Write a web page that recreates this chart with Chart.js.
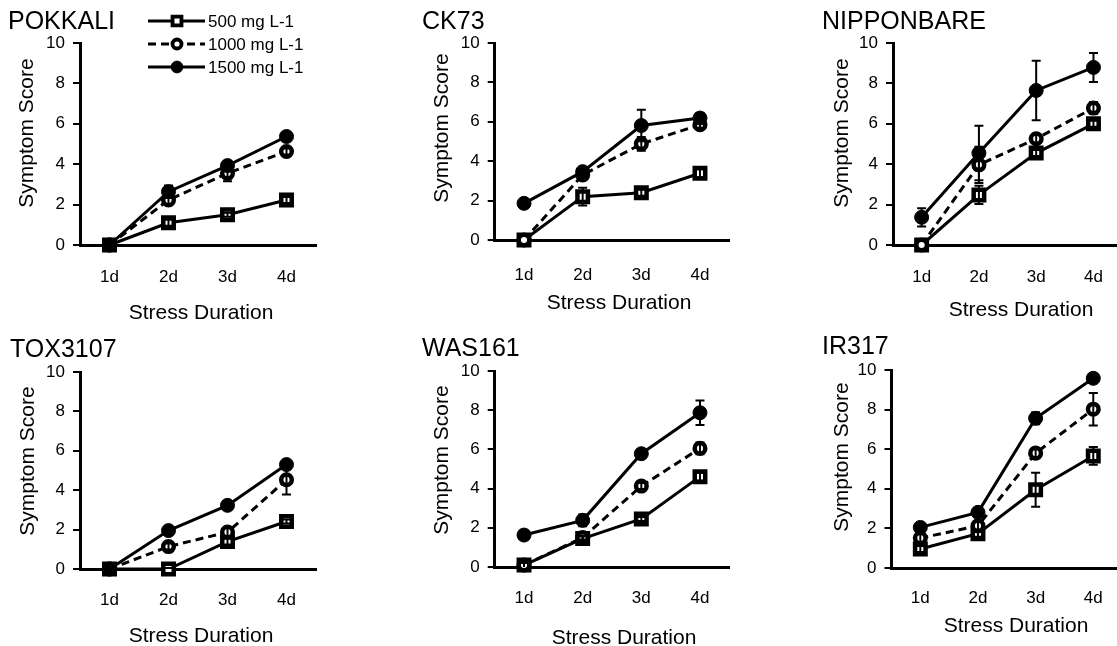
<!DOCTYPE html>
<html>
<head>
<meta charset="utf-8">
<script src="https://cdn.jsdelivr.net/npm/chart.js@4.4.1/dist/chart.umd.min.js"></script>
<style>
  html, body { margin: 0; padding: 0; background: #fff; overflow: hidden; }
  #wrap { position: relative; width: 1117px; height: 646px; overflow: hidden; background: #fff; }
  canvas { position: absolute; }
</style>
</head>
<body>
<div id="wrap"></div>
<script>
// ---------- DATA ----------
const days = ['1d', '2d', '3d', '4d'];
const yTicks = [0, 2, 4, 6, 8, 10];
const seriesNames = ['500 mg L-1', '1000 mg L-1', '1500 mg L-1'];
const panelNames = ['POKKALI', 'CK73', 'NIPPONBARE', 'TOX3107', 'WAS161', 'IR317'];
const xAxisTitle = 'Stress Duration';
const yAxisTitle = 'Symptom Score';

const POKKALI_500  = [0, 1.10, 1.50, 2.23];
const POKKALI_1000 = [0, 2.23, 3.55, 4.63];
const POKKALI_1500 = [0, 2.64, 3.93, 5.37];
const POKKALI_500_ERR  = [0, 0.15, 0.10, 0.15];
const POKKALI_1000_ERR = [0, 0.20, 0.40, 0.15];
const POKKALI_1500_ERR = [0, 0.30, 0.10, 0.10];

const CK73_500  = [0, 2.20, 2.40, 3.39];
const CK73_1000 = [0, 3.30, 4.88, 5.85];
const CK73_1500 = [1.86, 3.47, 5.81, 6.19];
const CK73_500_ERR  = [0, 0.45, 0.15, 0.20];
const CK73_1000_ERR = [0, 0.20, 0.35, 0.15];
const CK73_1500_ERR = [0, 0.10, 0.80, 0.25];

const NIPPONBARE_500  = [0, 2.48, 4.55, 6.00];
const NIPPONBARE_1000 = [0, 3.97, 5.26, 6.78];
const NIPPONBARE_1500 = [1.37, 4.55, 7.65, 8.79];
const NIPPONBARE_500_ERR  = [0, 0.45, 0.15, 0.15];
const NIPPONBARE_1000_ERR = [0, 0.90, 0.20, 0.30];
const NIPPONBARE_1500_ERR = [0.45, 1.35, 1.47, 0.72];

const TOX3107_500  = [0, 0, 1.39, 2.41];
const TOX3107_1000 = [0, 1.14, 1.87, 4.53];
const TOX3107_1500 = [0, 1.95, 3.23, 5.30];
const TOX3107_500_ERR  = [0, 0.05, 0.15, 0.10];
const TOX3107_1000_ERR = [0, 0.15, 0.20, 0.75];
const TOX3107_1500_ERR = [0, 0.10, 0.10, 0.10];

const WAS161_500  = [0.10, 1.45, 2.45, 4.61];
const WAS161_1000 = [0.10, 1.50, 4.13, 6.05];
const WAS161_1500 = [1.63, 2.38, 5.78, 7.87];
const WAS161_500_ERR  = [0.10, 0.10, 0.10, 0.20];
const WAS161_1000_ERR = [0.10, 0.10, 0.15, 0.30];
const WAS161_1500_ERR = [0.10, 0.30, 0.20, 0.63];

const IR317_500  = [0.96, 1.73, 3.95, 5.66];
const IR317_1000 = [1.51, 2.13, 5.80, 8.02];
const IR317_1500 = [2.05, 2.81, 7.56, 9.58];
const IR317_500_ERR  = [0.15, 0.15, 0.86, 0.45];
const IR317_1000_ERR = [0.20, 0.20, 0.20, 0.82];
const IR317_1500_ERR = [0.10, 0.10, 0.30, 0.15];

const panelValues = [
  [POKKALI_500, POKKALI_1000, POKKALI_1500],
  [CK73_500, CK73_1000, CK73_1500],
  [NIPPONBARE_500, NIPPONBARE_1000, NIPPONBARE_1500],
  [TOX3107_500, TOX3107_1000, TOX3107_1500],
  [WAS161_500, WAS161_1000, WAS161_1500],
  [IR317_500, IR317_1000, IR317_1500]
];
const panelErrors = [
  [POKKALI_500_ERR, POKKALI_1000_ERR, POKKALI_1500_ERR],
  [CK73_500_ERR, CK73_1000_ERR, CK73_1500_ERR],
  [NIPPONBARE_500_ERR, NIPPONBARE_1000_ERR, NIPPONBARE_1500_ERR],
  [TOX3107_500_ERR, TOX3107_1000_ERR, TOX3107_1500_ERR],
  [WAS161_500_ERR, WAS161_1000_ERR, WAS161_1500_ERR],
  [IR317_500_ERR, IR317_1000_ERR, IR317_1500_ERR]
];

// ---------- LAYOUT (canvas-local pixels) ----------
const layouts = [
  { cx: 0,   cy: 0,   w: 372, h: 323, L: 80,    R: 316,   T: 43, B: 245, tickPad: 22, title: [8, 22],  xt: [201, 313], yt: [27, 133], legend: true },
  { cx: 372, cy: 0,   w: 372, h: 323, L: 122.7, R: 357.3, T: 43, B: 240, tickPad: 25, title: [50, 22], xt: [247, 303], yt: [70, 128] },
  { cx: 744, cy: 0,   w: 390, h: 323, L: 149,   R: 382,   T: 43, B: 245, tickPad: 22, title: [78, 22], xt: [277, 310], yt: [98, 133] },
  { cx: 0,   cy: 323, w: 372, h: 323, L: 80,    R: 316,   T: 49, B: 246, tickPad: 21, title: [10, 27], xt: [201, 313], yt: [28, 138] },
  { cx: 372, cy: 323, w: 372, h: 323, L: 122.7, R: 357.3, T: 48, B: 244, tickPad: 21, title: [50, 26], xt: [252, 315], yt: [70, 137] },
  { cx: 744, cy: 323, w: 390, h: 323, L: 147.5, R: 382,   T: 47, B: 245, tickPad: 20, title: [78, 24], xt: [272, 303], yt: [98, 134] }
];

const FONT = '"Liberation Sans", Arial, Helvetica, sans-serif';
const seriesStyles = [
  { dash: [], pointStyle: 'rect', radius: 7.4, pbw: 4.5, fill: '#fff', order: 3 },
  { dash: [8, 5], pointStyle: 'circle', radius: 5.3, pbw: 4.5, fill: '#fff', order: 2 },
  { dash: [], pointStyle: 'circle', radius: 7, pbw: 1, fill: '#000', order: 1 }
];

// ---------- PLUGINS ----------
const errorBarPlugin = {
  id: 'errorBars',
  afterDatasetsDraw(chart) {
    const ctx = chart.ctx;
    const ys = chart.scales.y;
    ctx.save();
    ctx.strokeStyle = '#000';
    ctx.lineWidth = 2;
    ctx.setLineDash([]);
    chart.data.datasets.forEach((ds, i) => {
      const meta = chart.getDatasetMeta(i);
      meta.data.forEach((pt, j) => {
        const e = ds.errorBars ? ds.errorBars[j] : 0;
        if (!e) return;
        const v = ds.data[j];
        const y1 = ys.getPixelForValue(v + e);
        const y2 = ys.getPixelForValue(Math.max(v - e, 0));
        const x = pt.x, c = 4.5;
        ctx.beginPath();
        ctx.moveTo(x, y1); ctx.lineTo(x, y2);
        ctx.moveTo(x - c, y1); ctx.lineTo(x + c, y1);
        if (v - e > 0) { ctx.moveTo(x - c, y2); ctx.lineTo(x + c, y2); }
        ctx.stroke();
      });
    });
    ctx.restore();
  }
};

function drawMarker(ctx, style, x, y, scale) {
  ctx.save();
  ctx.setLineDash([]);
  ctx.strokeStyle = '#000';
  ctx.fillStyle = style.fill;
  ctx.lineWidth = style.pbw * scale;
  const r = style.radius * scale;
  ctx.beginPath();
  if (style.pointStyle === 'rect') {
    const s = Math.SQRT1_2 * r;
    ctx.rect(x - s, y - s, 2 * s, 2 * s);
  } else {
    ctx.arc(x, y, r, 0, Math.PI * 2);
  }
  ctx.fill();
  ctx.stroke();
  ctx.restore();
}

const textPlugin = {
  id: 'panelText',
  afterDraw(chart) {
    const lay = chart.config.options.plugins.panelText;
    const ctx = chart.ctx;
    ctx.save();
    ctx.fillStyle = '#000';
    // panel title
    ctx.font = '25px ' + FONT;
    ctx.textAlign = 'left';
    ctx.textBaseline = 'middle';
    ctx.fillText(lay.name, lay.title[0], lay.title[1]);
    // axis titles
    ctx.font = '21px ' + FONT;
    ctx.textAlign = 'center';
    ctx.fillText(xAxisTitle, lay.xt[0], lay.xt[1]);
    ctx.save();
    ctx.translate(lay.yt[0], lay.yt[1]);
    ctx.rotate(-Math.PI / 2);
    ctx.fillText(yAxisTitle, 0, 0);
    ctx.restore();
    // legend
    if (lay.legend) {
      const rows = [21, 44, 67];
      ctx.font = '17px ' + FONT;
      ctx.textAlign = 'left';
      seriesNames.forEach((name, i) => {
        const st = seriesStyles[i];
        const y = rows[i];
        ctx.save();
        ctx.strokeStyle = '#000';
        ctx.lineWidth = 3;
        ctx.setLineDash(st.dash);
        ctx.beginPath();
        ctx.moveTo(148, y); ctx.lineTo(205, y);
        ctx.stroke();
        ctx.restore();
        drawMarker(ctx, st, 177, y, 0.85);
        ctx.fillText(name, 208, y + 1);
      });
    }
    ctx.restore();
  }
};

// ---------- BUILD CHARTS ----------
const wrap = document.getElementById('wrap');
layouts.forEach((lay, p) => {
  const cv = document.createElement('canvas');
  cv.width = lay.w; cv.height = lay.h;
  cv.style.left = lay.cx + 'px'; cv.style.top = lay.cy + 'px';
  cv.style.width = lay.w + 'px'; cv.style.height = lay.h + 'px';
  wrap.appendChild(cv);

  const xH = 45;
  const datasets = panelValues[p].map((vals, i) => {
    const st = seriesStyles[i];
    return {
      label: seriesNames[i],
      data: vals,
      errorBars: panelErrors[p][i],
      order: st.order,
      borderColor: '#000',
      borderWidth: 3,
      borderDash: st.dash,
      pointStyle: st.pointStyle,
      pointRadius: st.radius,
      pointBorderWidth: st.pbw,
      pointBackgroundColor: st.fill,
      pointBorderColor: '#000',
      tension: 0,
      fill: false,
      clip: false
    };
  });

  new Chart(cv, {
    type: 'line',
    data: { labels: days, datasets },
    options: {
      responsive: false,
      animation: false,
      devicePixelRatio: 1,
      layout: { padding: { left: 0, top: lay.T, right: lay.w - lay.R, bottom: lay.h - lay.B - xH } },
      scales: {
        x: {
          type: 'category',
          offset: true,
          grid: { display: false, drawTicks: false },
          border: { display: true, color: '#000', width: 3 },
          ticks: { color: '#000', font: { family: FONT, size: 17 }, padding: lay.tickPad, maxRotation: 0, autoSkip: false },
          afterFit(s) { s.height = xH; }
        },
        y: {
          min: 0, max: 10,
          afterBuildTicks(s) { s.ticks = yTicks.map(v => ({ value: v })); },
          grid: { drawOnChartArea: false, drawTicks: true, tickLength: 7, color: '#000', lineWidth: 2 },
          border: { display: true, color: '#000', width: 3 },
          ticks: { color: '#000', font: { family: FONT, size: 17 }, padding: 8 },
          afterFit(s) { s.width = lay.L; }
        }
      },
      plugins: {
        legend: { display: false },
        tooltip: { enabled: false },
        title: { display: false },
        panelText: Object.assign({ name: panelNames[p] }, lay)
      }
    },
    plugins: [errorBarPlugin, textPlugin]
  });
});
</script>
</body>
</html>
